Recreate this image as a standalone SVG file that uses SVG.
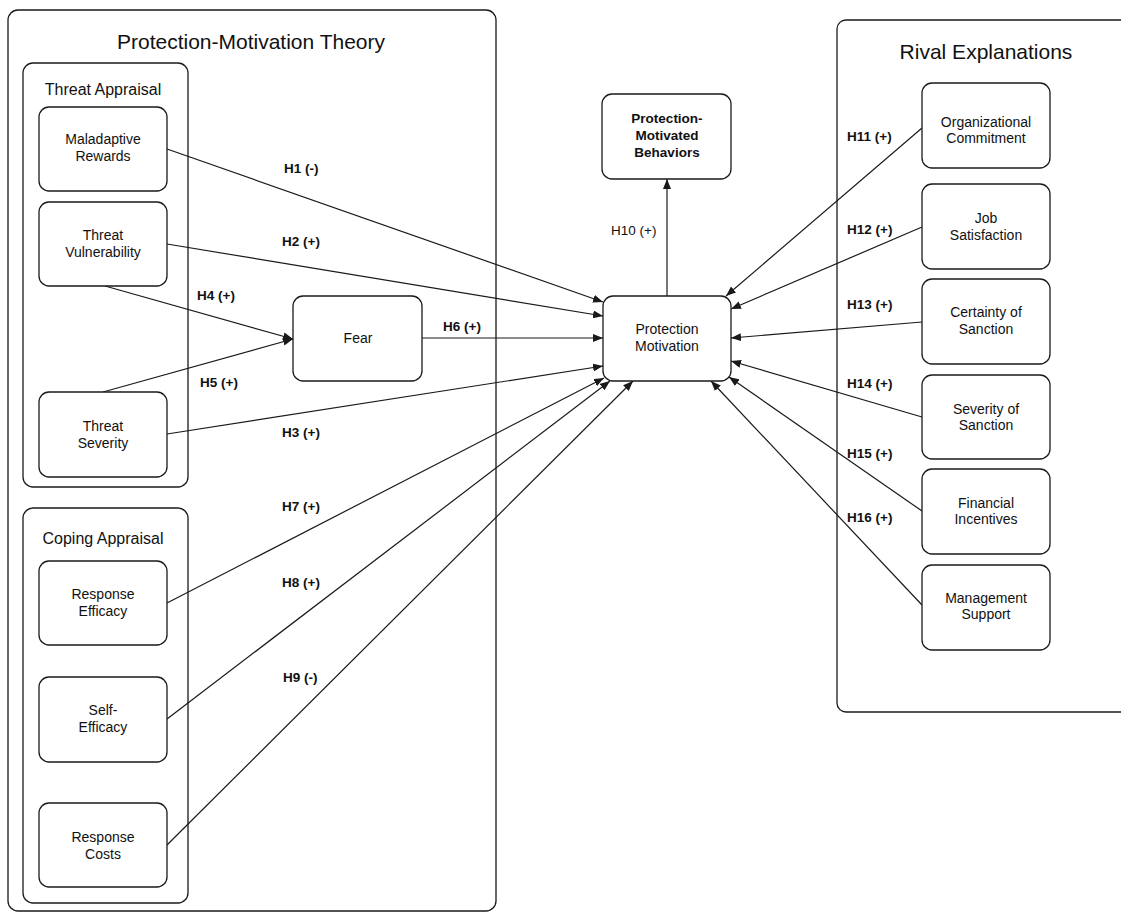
<svg xmlns="http://www.w3.org/2000/svg" width="1121" height="913" viewBox="0 0 1121 913">
  <style>
    .frame { fill: none; stroke: #1a1a1a; stroke-width: 1.3; }
    .node { fill: #ffffff; stroke: #1a1a1a; stroke-width: 1.3; }
    .title { font-family: "Liberation Sans", Arial, sans-serif; font-size: 21px; fill: #111; text-anchor: middle; }
    .group { font-family: "Liberation Sans", Arial, sans-serif; font-size: 16px; fill: #111; text-anchor: middle; }
    .lbl { font-family: "Liberation Sans", Arial, sans-serif; font-size: 14px; fill: #111; text-anchor: middle; }
    .lblb { font-family: "Liberation Sans", Arial, sans-serif; font-size: 13.5px; font-weight: bold; fill: #111; text-anchor: middle; }
    .hyp { font-family: "Liberation Sans", Arial, sans-serif; font-size: 13.5px; font-weight: bold; fill: #111; }
    .hypn { font-family: "Liberation Sans", Arial, sans-serif; font-size: 13.5px; fill: #111; }
    .edge { fill: none; stroke: #1a1a1a; stroke-width: 1.2; marker-end: url(#arrow); }
  </style>
  <defs>
    <marker id="arrow" markerUnits="userSpaceOnUse" markerWidth="10" markerHeight="8" refX="10" refY="4" orient="auto">
      <path d="M0,0 L10,4 L0,8 z" fill="#1a1a1a"/>
    </marker>
  </defs>

  <rect width="1121" height="913" fill="#ffffff"/>

  <!-- Container frames -->
  <g id="pmt-frame">
    <rect class="frame" x="8" y="10" width="488" height="901" rx="10"/>
    <text class="title" x="251" y="49">Protection-Motivation Theory</text>
  </g>
  <g id="threat-appraisal-frame">
    <rect class="frame" x="23" y="63" width="165" height="424" rx="10"/>
    <text class="group" x="103" y="95">Threat Appraisal</text>
  </g>
  <g id="coping-appraisal-frame">
    <rect class="frame" x="23" y="508" width="165" height="395" rx="10"/>
    <text class="group" x="103" y="544">Coping Appraisal</text>
  </g>
  <g id="rival-frame">
    <rect class="frame" x="837" y="20" width="300" height="692" rx="9"/>
    <text class="title" x="986" y="59">Rival Explanations</text>
  </g>

  <!-- Connectors -->
  <g id="connectors">
    <line class="edge" x1="167" y1="149" x2="603" y2="302"/>
    <line class="edge" x1="167" y1="244" x2="603" y2="316"/>
    <line class="edge" x1="105" y1="286" x2="293" y2="339"/>
    <line class="edge" x1="103" y1="392" x2="293" y2="339"/>
    <line class="edge" x1="422" y1="338" x2="603" y2="338"/>
    <line class="edge" x1="167" y1="434" x2="603" y2="366"/>
    <line class="edge" x1="167" y1="603" x2="604" y2="378"/>
    <line class="edge" x1="167" y1="719" x2="610" y2="381"/>
    <line class="edge" x1="167" y1="845" x2="633" y2="381"/>
    <line class="edge" x1="667" y1="296" x2="667" y2="179"/>
    <line class="edge" x1="922" y1="128" x2="726" y2="296"/>
    <line class="edge" x1="922" y1="227" x2="731" y2="309"/>
    <line class="edge" x1="922" y1="322" x2="731" y2="338"/>
    <line class="edge" x1="922" y1="417" x2="731" y2="361"/>
    <line class="edge" x1="922" y1="511" x2="729" y2="377"/>
    <line class="edge" x1="922" y1="605" x2="711" y2="381"/>

    <text class="hyp" x="284" y="173">H1 (-)</text>
    <text class="hyp" x="282" y="246">H2 (+)</text>
    <text class="hyp" x="197" y="300">H4 (+)</text>
    <text class="hyp" x="443" y="331">H6 (+)</text>
    <text class="hyp" x="200" y="387">H5 (+)</text>
    <text class="hyp" x="282" y="437">H3 (+)</text>
    <text class="hyp" x="282" y="511">H7 (+)</text>
    <text class="hyp" x="282" y="587">H8 (+)</text>
    <text class="hyp" x="283" y="682">H9 (-)</text>
    <text class="hypn" x="611" y="235">H10 (+)</text>
    <text class="hyp" x="847" y="141">H11 (+)</text>
    <text class="hyp" x="847" y="234">H12 (+)</text>
    <text class="hyp" x="847" y="309">H13 (+)</text>
    <text class="hyp" x="847" y="388">H14 (+)</text>
    <text class="hyp" x="847" y="458">H15 (+)</text>
    <text class="hyp" x="847" y="522">H16 (+)</text>
  </g>

  <!-- Threat appraisal constructs -->
  <g id="maladaptive-rewards">
    <rect class="node" x="39" y="107" width="128" height="84" rx="10"/>
    <text class="lbl" x="103" y="144">Maladaptive</text>
    <text class="lbl" x="103" y="161">Rewards</text>
  </g>
  <g id="threat-vulnerability">
    <rect class="node" x="39" y="202" width="128" height="84" rx="10"/>
    <text class="lbl" x="103" y="240">Threat</text>
    <text class="lbl" x="103" y="257">Vulnerability</text>
  </g>
  <g id="threat-severity">
    <rect class="node" x="39" y="392" width="128" height="85" rx="10"/>
    <text class="lbl" x="103" y="431">Threat</text>
    <text class="lbl" x="103" y="448">Severity</text>
  </g>

  <!-- Coping appraisal constructs -->
  <g id="response-efficacy">
    <rect class="node" x="39" y="561" width="128" height="84" rx="10"/>
    <text class="lbl" x="103" y="599">Response</text>
    <text class="lbl" x="103" y="616">Efficacy</text>
  </g>
  <g id="self-efficacy">
    <rect class="node" x="39" y="677" width="128" height="85" rx="10"/>
    <text class="lbl" x="103" y="715">Self-</text>
    <text class="lbl" x="103" y="732">Efficacy</text>
  </g>
  <g id="response-costs">
    <rect class="node" x="39" y="803" width="128" height="84" rx="10"/>
    <text class="lbl" x="103" y="842">Response</text>
    <text class="lbl" x="103" y="859">Costs</text>
  </g>

  <!-- Mediator and outcomes -->
  <g id="fear">
    <rect class="node" x="293" y="296" width="129" height="85" rx="10"/>
    <text class="lbl" x="358" y="343">Fear</text>
  </g>
  <g id="protection-motivation">
    <rect class="node" x="603" y="296" width="128" height="85" rx="10"/>
    <text class="lbl" x="667" y="334">Protection</text>
    <text class="lbl" x="667" y="351">Motivation</text>
  </g>
  <g id="protection-motivated-behaviors">
    <rect class="node" x="602" y="94" width="129" height="85" rx="10"/>
    <text class="lblb" x="667" y="123">Protection-</text>
    <text class="lblb" x="667" y="140">Motivated</text>
    <text class="lblb" x="667" y="157">Behaviors</text>
  </g>

  <!-- Rival explanation constructs -->
  <g id="organizational-commitment">
    <rect class="node" x="922" y="83" width="128" height="85" rx="10"/>
    <text class="lbl" x="986" y="127">Organizational</text>
    <text class="lbl" x="986" y="143">Commitment</text>
  </g>
  <g id="job-satisfaction">
    <rect class="node" x="922" y="184" width="128" height="85" rx="10"/>
    <text class="lbl" x="986" y="223">Job</text>
    <text class="lbl" x="986" y="240">Satisfaction</text>
  </g>
  <g id="certainty-of-sanction">
    <rect class="node" x="922" y="279" width="128" height="85" rx="10"/>
    <text class="lbl" x="986" y="317">Certainty of</text>
    <text class="lbl" x="986" y="334">Sanction</text>
  </g>
  <g id="severity-of-sanction">
    <rect class="node" x="922" y="375" width="128" height="84" rx="10"/>
    <text class="lbl" x="986" y="414">Severity of</text>
    <text class="lbl" x="986" y="430">Sanction</text>
  </g>
  <g id="financial-incentives">
    <rect class="node" x="922" y="469" width="128" height="85" rx="10"/>
    <text class="lbl" x="986" y="508">Financial</text>
    <text class="lbl" x="986" y="524">Incentives</text>
  </g>
  <g id="management-support">
    <rect class="node" x="922" y="565" width="128" height="85" rx="10"/>
    <text class="lbl" x="986" y="603">Management</text>
    <text class="lbl" x="986" y="619">Support</text>
  </g>
</svg>
